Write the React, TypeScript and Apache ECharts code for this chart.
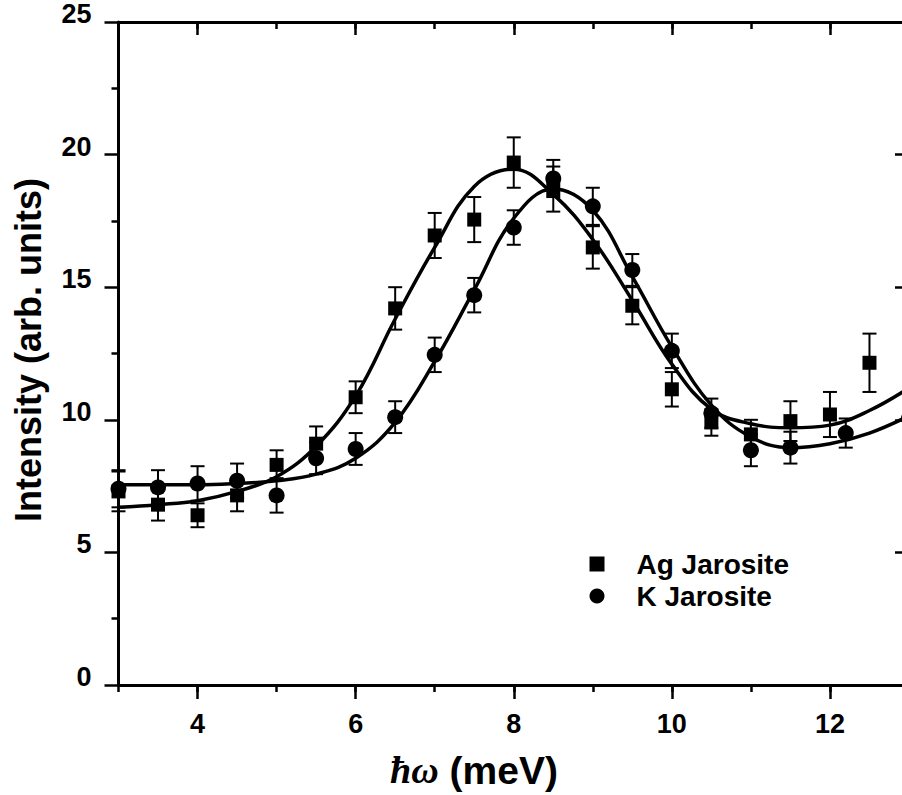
import React, { useEffect, useRef } from "react";
import * as echarts from "echarts";

// Measured points: energy transfer (meV), intensity, error
const agX = [3, 3.5, 4, 4.5, 5, 5.5, 6, 6.5, 7, 7.5, 8, 8.5, 9, 9.5, 10, 10.5, 11, 11.5, 12, 12.5, 13];
const agY = [7.3, 6.8, 6.4, 7.15, 8.3, 9.1, 10.85, 14.2, 16.95, 17.55, 19.7, 18.7, 16.5, 14.3, 11.15, 9.9, 9.45, 9.95, 10.2, 12.15, 11.6];
const agErr = [0.75, 0.6, 0.45, 0.6, 0.55, 0.65, 0.6, 0.8, 0.85, 0.85, 0.95, 0.85, 0.8, 0.7, 0.65, 0.5, 0.55, 0.75, 0.85, 1.1, 1.0];

const kX = [3, 3.5, 4, 4.5, 5, 5.5, 6, 6.5, 7, 7.5, 8, 8.5, 9, 9.5, 10, 10.5, 11, 11.5, 12.2, 13];
const kY = [7.4, 7.45, 7.6, 7.7, 7.15, 8.55, 8.9, 10.1, 12.45, 14.7, 17.25, 19.1, 18.05, 15.65, 12.6, 10.25, 8.85, 8.95, 9.5, 10.05];
const kErr = [0.7, 0.65, 0.65, 0.65, 0.65, 0.6, 0.6, 0.6, 0.65, 0.65, 0.65, 0.7, 0.7, 0.6, 0.65, 0.55, 0.6, 0.6, 0.55, 0.6];

// Fitted curves sampled along the energy axis
const fitX = [3, 3.5, 4, 4.5, 5, 5.5, 6, 6.5, 7, 7.5, 8, 8.5, 9, 9.5, 10, 10.5, 11, 11.5, 12, 12.5, 13];
const agFit = [6.7, 6.8, 6.95, 7.3, 7.85, 9.0, 10.9, 13.8, 16.5, 18.8, 19.45, 18.5, 16.8, 14.5, 12.1, 10.4, 9.85, 9.7, 9.8, 10.35, 11.2];
const kFit = [7.55, 7.55, 7.55, 7.6, 7.7, 7.95, 8.55, 9.9, 12.2, 14.9, 17.6, 18.7, 17.9, 15.4, 12.75, 10.55, 9.35, 8.95, 9.1, 9.5, 10.15];

const majorX = [4, 6, 8, 10, 12];
const seriesNames = ["Ag Jarosite", "K Jarosite"];

const SANS = "'Liberation Sans', Arial, Helvetica, sans-serif";
const BLACK = "#000";

const errorBarItem = (_params: any, api: any) => {
  const x = api.value(0);
  const y = api.value(1);
  const e = api.value(2);
  const hi = api.coord([x, y + e]);
  const lo = api.coord([x, y - e]);
  const half = 7;
  const st = { stroke: BLACK, lineWidth: 2 };
  return {
    type: "group",
    children: [
      { type: "line", shape: { x1: hi[0], y1: hi[1], x2: lo[0], y2: lo[1] }, style: st },
      { type: "line", shape: { x1: hi[0] - half, y1: hi[1], x2: hi[0] + half, y2: hi[1] }, style: st },
      { type: "line", shape: { x1: lo[0] - half, y1: lo[1], x2: lo[0] + half, y2: lo[1] }, style: st },
    ],
  };
};

export default function App() {
  const ref = useRef<HTMLDivElement>(null);

  useEffect(() => {
    if (!ref.current) return;
    const chart = echarts.init(ref.current, null, { renderer: "svg" });

    const axisLine = { show: true, lineStyle: { color: BLACK, width: 3 } };
    const xBase = { type: "value", min: 3, max: 13, gridIndex: 0, splitLine: { show: false } };
    const yBase = { type: "value", min: 0, max: 25, interval: 5, gridIndex: 0, splitLine: { show: false } };
    const tickLabel = { color: BLACK, fontFamily: SANS, fontWeight: "bold", fontSize: 27 };

    chart.setOption({
      animation: false,
      backgroundColor: "#fff",
      grid: { left: 118.5, top: 22, width: 790.5, height: 663, outerBoundsMode: "none", containLabel: false },
      xAxis: [
        {
          ...xBase,
          position: "bottom",
          axisLine,
          axisTick: { show: true, inside: false, length: 14, customValues: majorX, lineStyle: { color: BLACK, width: 2.5 } },
          axisLabel: { show: true, customValues: majorX, margin: 25, ...tickLabel },
        },
        {
          ...xBase,
          position: "bottom",
          interval: 1,
          axisLine: { show: false },
          axisTick: { show: true, inside: false, length: 7, lineStyle: { color: BLACK, width: 2.5 } },
          axisLabel: { show: false },
        },
        {
          ...xBase,
          position: "top",
          axisLine,
          axisTick: { show: true, inside: true, length: 13, customValues: majorX, lineStyle: { color: BLACK, width: 2.5 } },
          axisLabel: { show: false },
        },
        {
          ...xBase,
          position: "top",
          interval: 1,
          axisLine: { show: false },
          axisTick: { show: true, inside: true, length: 7, lineStyle: { color: BLACK, width: 2.5 } },
          axisLabel: { show: false },
        },
      ],
      yAxis: [
        {
          ...yBase,
          position: "left",
          axisLine,
          axisTick: { show: true, inside: false, length: 14, lineStyle: { color: BLACK, width: 2.5 } },
          minorTick: { show: true, splitNumber: 2, length: 7, lineStyle: { color: BLACK, width: 2.5 } },
          axisLabel: {
            show: true,
            margin: 27,
            ...tickLabel,
            verticalAlign: "bottom",
            lineHeight: 16,
          },
        },
        {
          ...yBase,
          position: "right",
          axisLine,
          axisTick: { show: true, inside: true, length: 14, lineStyle: { color: BLACK, width: 2.5 } },
          minorTick: { show: true, splitNumber: 2, length: 7, lineStyle: { color: BLACK, width: 2.5 } },
          axisLabel: { show: false },
        },
      ],
      legend: {
        show: true,
        orient: "vertical",
        left: 584.5,
        top: 544,
        itemWidth: 15,
        itemHeight: 15,
        itemGap: 2,
        data: [
          { name: seriesNames[0], icon: "rect" },
          { name: seriesNames[1], icon: "circle" },
        ],
        itemStyle: { opacity: 1, color: BLACK },
        textStyle: {
          color: BLACK,
          fontFamily: SANS,
          fontWeight: "bold",
          fontSize: 28,
          lineHeight: 30,
          padding: [0, 0, 0, 27],
        },
      },
      series: [
        {
          name: "Ag fit",
          type: "line",
          data: fitX.map((x, i) => [x, agFit[i]]),
          smooth: 0.4,
          showSymbol: false,
          lineStyle: { color: BLACK, width: 3.5 },
          z: 2,
        },
        {
          name: "K fit",
          type: "line",
          data: fitX.map((x, i) => [x, kFit[i]]),
          smooth: 0.4,
          showSymbol: false,
          lineStyle: { color: BLACK, width: 3.5 },
          z: 2,
        },
        {
          name: "Ag errors",
          type: "custom",
          renderItem: errorBarItem,
          data: agX.map((x, i) => [x, agY[i], agErr[i]]),
          encode: { x: 0, y: 1 },
          z: 3,
        },
        {
          name: "K errors",
          type: "custom",
          renderItem: errorBarItem,
          data: kX.map((x, i) => [x, kY[i], kErr[i]]),
          encode: { x: 0, y: 1 },
          z: 3,
        },
        {
          name: seriesNames[0],
          type: "scatter",
          symbol: "rect",
          symbolSize: 14,
          data: agX.map((x, i) => [x, agY[i]]),
          itemStyle: { color: BLACK, opacity: 1 },
          clip: false,
          z: 4,
        },
        {
          name: seriesNames[1],
          type: "scatter",
          symbol: "circle",
          symbolSize: 16,
          data: kX.map((x, i) => [x, kY[i]]),
          itemStyle: { color: BLACK, opacity: 1 },
          clip: false,
          z: 4,
        },
      ],
      graphic: [
        {
          type: "text",
          x: 28,
          y: 350,
          rotation: Math.PI / 2,
          style: {
            text: "Intensity (arb. units)",
            fill: BLACK,
            fontFamily: SANS,
            fontWeight: "bold",
            fontSize: 36,
            align: "center",
            verticalAlign: "middle",
          },
        },
        {
          type: "text",
          x: 474,
          y: 770,
          style: {
            text: "{a|ħω}{b| (meV)}",
            fill: BLACK,
            align: "center",
            verticalAlign: "middle",
            rich: {
              a: {
                fontFamily: "'Liberation Serif', 'DejaVu Serif', serif",
                fontStyle: "italic",
                fontWeight: "bold",
                fontSize: 38,
                fill: BLACK,
              },
              b: { fontFamily: SANS, fontWeight: "bold", fontSize: 39, fill: BLACK },
            },
          },
        },
      ],
    });

    return () => chart.dispose();
  }, []);

  return (
    <div style={{ position: "absolute", left: 0, top: 0, width: 902, height: 795, overflow: "hidden", background: "#fff" }}>
      <div ref={ref} style={{ width: 930, height: 795 }} />
    </div>
  );
}
